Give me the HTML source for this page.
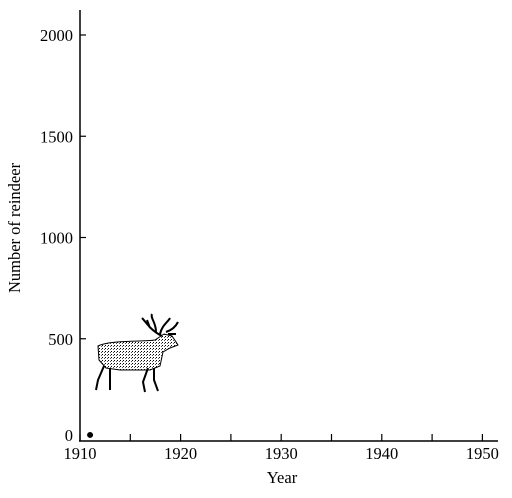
<!DOCTYPE html>
<html><head><meta charset="utf-8"><style>
html,body{margin:0;padding:0;background:#fff;}
svg{display:block;font-family:"Liberation Serif",serif;}
</style></head><body>
<svg width="512" height="498" viewBox="0 0 512 498">
<defs>
<pattern id="stip" width="3" height="3" patternUnits="userSpaceOnUse">
<rect width="3" height="3" fill="#fff"/><rect x="0" y="0" width="1" height="1" fill="#000"/><rect x="2" y="1" width="1" height="1" fill="#555"/>
</pattern>
</defs>
<g id="axes"></g>
<g id="marks"></g>
<g stroke="#000" stroke-width="1">
<path d="M98,346 C110,340 140,342 155,340 L164,334 L172,336 L178,345 L170,348 L163,352 L160,366 L150,370 L120,370 L106,368 L99,360 Z" fill="url(#stip)"/>
<path d="M104,366 L98,380 L96,390 M110,368 L110,390 M148,368 L143,382 L145,392 M154,368 L154,380 L158,391" fill="none" stroke-width="2"/>
<path d="M162,336 C150,330 146,322 142,318 M150,328 L147,320 M156,332 C156,322 150,318 152,314 M160,334 C162,325 168,322 170,318 M166,332 C172,330 176,326 178,322 M168,334 L176,334" fill="none" stroke-width="2"/>
</g>
<text x="20" y="228" transform="rotate(-90 20 228)" text-anchor="middle" font-size="16.5">Number of reindeer</text>
<text x="282" y="483" text-anchor="middle" font-size="16.5">Year</text>
<script>
const xTicks=[1910,1920,1930,1940,1950];
const xMinor=[1915,1925,1935,1945];
const yTicks=[0,500,1000,1500,2000];
const years=[1911];
const counts=[25];
const X=v=>80+(v-1910)*10.06;
const Y=v=>440-(v)*0.2025;
const NS="http://www.w3.org/2000/svg";
const ax=document.getElementById('axes');
function mk(t,a,p){const e=document.createElementNS(NS,t);for(const k in a)e.setAttribute(k,a[k]);(p||ax).appendChild(e);return e;}
let l=mk('line',{x1:80,y1:10,x2:80,y2:441,stroke:'#000','stroke-width':1.5});


l=mk('line',{x1:79,y1:441,x2:498,y2:441,stroke:'#000','stroke-width':1.5});


xTicks.concat(xMinor).forEach(v=>{
  const t=mk('line',{x1:X(v),y1:441,x2:X(v),y2:434,stroke:'#000','stroke-width':1.2});
  
  
});
xTicks.forEach(v=>{
  const t=mk('text',{x:X(v),y:459,'text-anchor':'middle','font-size':16.5});
  t.textContent=v;
  
  
});
yTicks.forEach(v=>{
  if(v>0){const t=mk('line',{x1:80,y1:Y(v),x2:86,y2:Y(v),stroke:'#000','stroke-width':1.2});
  
  }
  const s=mk('text',{x:73,y:Y(v)+(v?6:1),'text-anchor':'end','font-size':16.5});
  s.textContent=v;
  
  
});
const mg=document.getElementById('marks');
years.forEach((y,i)=>{
  const c=mk('circle',{cx:X(y),cy:Y(counts[i]),r:3,fill:'#000'},mg);
  
  
});
</script>
</svg>
</body></html>
